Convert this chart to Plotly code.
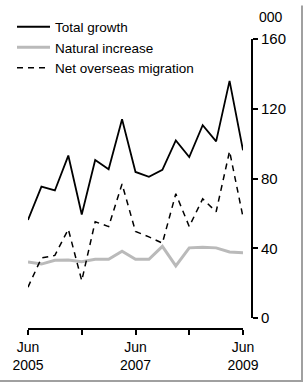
import plotly.graph_objects as go

quarters = list(range(17))  # Jun 2005 .. Jun 2009, quarterly
tick_positions = [0, 4, 8, 12, 16]
tick_labels = ["Jun<br>2005", "", "Jun<br>2007", "", "Jun<br>2009"]

total_growth = [56.3, 75.4, 73.2, 93.2, 59.4, 90.6, 85.3, 114.0, 83.8, 81.0,
                85.0, 101.9, 92.3, 110.6, 101.3, 136.0, 96.2]
natural_increase = [32.2, 31.0, 33.2, 33.4, 32.4, 33.8, 33.8, 38.4, 33.8, 33.8,
                    41.2, 30.0, 40.3, 40.7, 40.3, 37.9, 37.5]
net_overseas = [17.8, 34.5, 36.0, 51.0, 21.5, 55.3, 52.5, 76.9, 49.7, 46.6,
                43.0, 71.3, 52.5, 68.4, 61.0, 95.7, 58.0]

W, H = 304, 386
L, R, T, B = 28, 52, 34, 57
pw, ph = W - L - R, H - T - B

def px_x(x):
    return (x - L) / pw

def px_y(y):
    return (H - B - y) / ph

FONT = "Liberation Sans, Arial, sans-serif"

fig = go.Figure()
fig.add_trace(go.Scatter(x=quarters, y=total_growth, mode="lines", name="Total growth",
                         line=dict(color="black", width=1.8)))
fig.add_trace(go.Scatter(x=quarters, y=natural_increase, mode="lines", name="Natural increase",
                         line=dict(color="#bababa", width=3)))
fig.add_trace(go.Scatter(x=quarters, y=net_overseas, mode="lines", name="Net overseas migration",
                         line=dict(color="black", width=1.5, dash="6px,5px")))

fig.update_layout(
    width=W, height=H,
    margin=dict(l=L, r=R, t=T, b=B, pad=0),
    paper_bgcolor="white", plot_bgcolor="white",
    font=dict(family=FONT, size=15, color="black"),
    showlegend=True,
    legend=dict(x=px_x(12), y=px_y(6), xanchor="left", yanchor="top",
                bgcolor="rgba(0,0,0,0)", borderwidth=0, itemwidth=33,
                tracegroupgap=0, font=dict(size=13.5, family=FONT),
                traceorder="normal"),
    xaxis=dict(range=[0, 16], domain=[0, px_x(243)], anchor="free", position=0,
               showgrid=False, zeroline=False, showline=True, linecolor="black", linewidth=2,
               ticks="outside", ticklen=5, tickwidth=2, tickcolor="black",
               tickvals=tick_positions, ticktext=tick_labels, tickangle=0,
               tickfont=dict(size=14)),
    yaxis=dict(range=[0, 160], domain=[px_y(318), 1], anchor="free", position=1, side="right",
               showgrid=False, zeroline=False, showline=True, linecolor="black", linewidth=2,
               ticks="outside", ticklen=5, tickwidth=2, tickcolor="black",
               tickvals=[0, 40, 80, 120, 160], tickfont=dict(size=15)),
    annotations=[dict(text="000", xref="paper", yref="paper", x=px_x(257), y=px_y(12),
                      xanchor="left", yanchor="middle", showarrow=False,
                      font=dict(size=14, family=FONT))],
    shapes=[
        dict(type="line", xref="paper", yref="paper", x0=px_x(302), x1=px_x(302),
             y0=px_y(0), y1=px_y(383), line=dict(color="#a0a0a0", width=2)),
        dict(type="line", xref="paper", yref="paper", x0=px_x(0), x1=px_x(303),
             y0=px_y(382), y1=px_y(382), line=dict(color="#a0a0a0", width=2)),
    ],
)

fig.write_html("out.html")
